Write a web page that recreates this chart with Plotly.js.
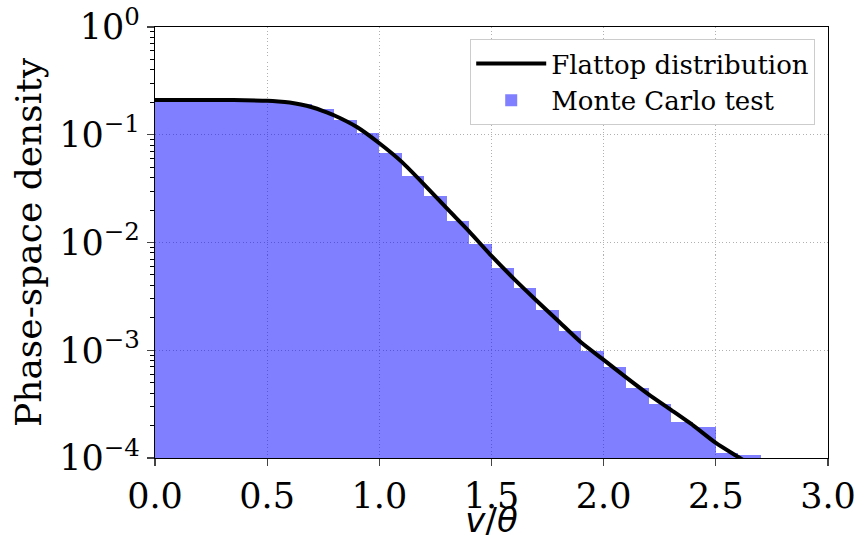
<!DOCTYPE html>
<html><head><meta charset="utf-8">
<script src="https://cdn.plot.ly/plotly-3.0.1.min.js"></script>
<style>html,body{margin:0;padding:0;background:#fff}#chart{width:859px;height:540px}</style>
</head><body><div id="chart"></div>
<script>
const binCenters = [0.05,0.15,0.25,0.35,0.45,0.55,0.65,0.75,0.85,0.95,1.05,1.15,1.25,1.35,1.45,1.55,1.65,1.75,1.85,1.95,2.05,2.15,2.25,2.35,2.45,2.55,2.65];
const mcDensity = [0.208,0.209,0.208,0.207,0.206,0.203,0.193,0.172,0.137,0.103,0.0673,0.0418,0.0269,0.0159,0.00964,0.00581,0.00382,0.00236,0.00151,0.000993,0.000697,0.000445,0.000316,0.000217,0.000192,0.000112,0.000107];
const curveV = [0.0,0.1,0.2,0.3,0.4,0.5,0.55,0.6,0.65,0.7,0.75,0.8,0.9,1.0,1.1,1.2,1.3,1.4,1.5,1.6,1.7,1.8,1.9,2.0,2.1,2.2,2.3,2.4,2.5,2.6,2.7];
const curveDensity = [0.21,0.21,0.21,0.21,0.209,0.207,0.204,0.199,0.191,0.18,0.166,0.151,0.118,0.0834,0.056,0.0345,0.0208,0.0127,0.0075,0.0046,0.0029,0.00185,0.00118,0.000815,0.00056,0.00039,0.00028,0.0002,0.000138,0.000102,0.000076];
const yTickVals = [1e-4,1e-3,1e-2,1e-1,1];
const yTickText = ['10<sup>−4</sup>','10<sup>−3</sup>','10<sup>−2</sup>','10<sup>−1</sup>','10<sup>0</sup>'];
const xTickVals = [0,0.5,1.0,1.5,2.0,2.5,3.0];
const xTickText = ['0.0','0.5','1.0','1.5','2.0','2.5','3.0'];
const minorTickVals = [];
for (const dec of [1e-4,1e-3,1e-2,1e-1]) for (let k=2;k<=9;k++) minorTickVals.push(k*dec);

const serif = 'DejaVu Serif';
const data = [
  {type:'bar', x:binCenters, y:mcDensity, width:0.1, name:'Monte Carlo test',
   marker:{color:'rgba(0,0,255,0.5)', line:{width:0}}, legendrank:2},
  {type:'scatter', mode:'lines', x:curveV, y:curveDensity, name:'Flattop distribution',
   line:{color:'black', width:4, shape:'spline', smoothing:0.6}, legendrank:1}
];
const gridStyle = {showgrid:true, gridcolor:'#b0b0b0', griddash:'1px,2.5px', gridwidth:1, zeroline:false};
const layout = {
  width:859, height:540,
  margin:{l:155, r:31, t:27, b:82},
  paper_bgcolor:'white', plot_bgcolor:'white',
  showlegend:true, bargap:0,
  font:{family:serif, color:'black'},
  legend:{x:0.981, xanchor:'right', y:0.972, yanchor:'top', bgcolor:'white',
          bordercolor:'#cccccc', borderwidth:1, font:{family:serif, size:26, color:'black'},
          tracegroupgap:0, itemwidth:70},
  xaxis:Object.assign({range:[0,3], tickvals:xTickVals, ticktext:xTickText, ticks:'outside', ticklen:7, tickwidth:1.2,
         tickfont:{family:serif, size:35}, showline:true, linecolor:'black', linewidth:1.2, mirror:true,
         title:{text:'<i>v</i>/<i>θ</i>', font:{family:'DejaVu Sans', size:34}, standoff:7}}, gridStyle),
  yaxis:Object.assign({type:'log', range:[-4,0], tickvals:yTickVals, ticktext:yTickText, ticks:'outside', ticklen:7, tickwidth:1.2,
         tickfont:{family:serif, size:35}, showline:true, linecolor:'black', linewidth:1.2, mirror:true,
         minor:{tickmode:'array', tickvals:minorTickVals, ticks:'outside', ticklen:4, tickwidth:1, tickcolor:'black', showgrid:false},
         title:{text:'Phase-space density', font:{family:serif, size:36}, standoff:6}}, gridStyle)
};
Plotly.newPlot('chart', data, layout, {displayModeBar:false, staticPlot:true});
</script>
</body></html>
